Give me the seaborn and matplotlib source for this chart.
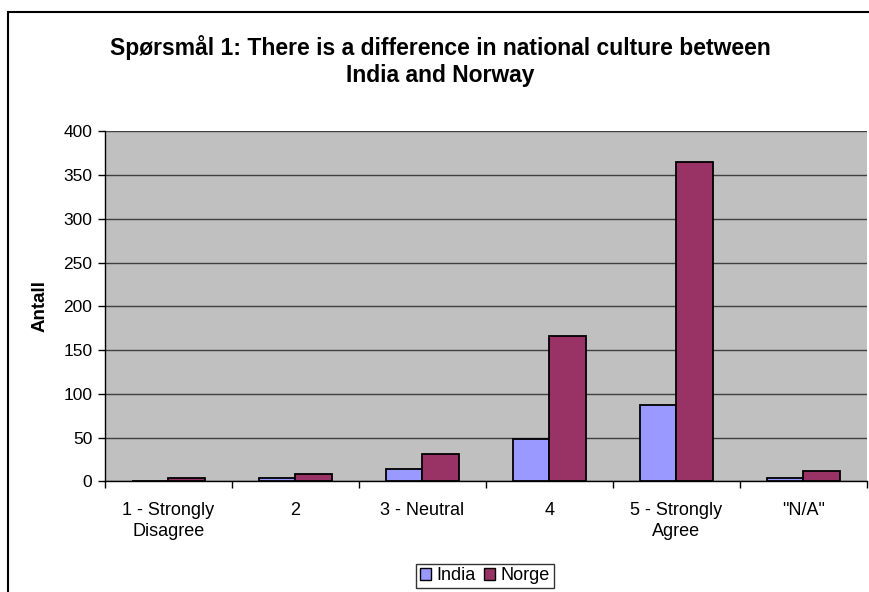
import matplotlib
matplotlib.use("Agg")
import matplotlib.pyplot as plt
import matplotlib.patches as mpatches
import seaborn as sns
import pandas as pd

categories = ["1 - Strongly\nDisagree", "2", "3 - Neutral", "4", "5 - Strongly\nAgree", "\"N/A\""]
india = [1, 4, 14, 48, 87, 4]
norge = [4, 8, 31, 166, 365, 12]
series_names = ["India", "Norge"]
colors = {"India": "#9999FF", "Norge": "#993366"}
yticks = [0, 50, 100, 150, 200, 250, 300, 350, 400]

df = pd.DataFrame({
    "Kategori": categories * 2,
    "Antall": india + norge,
    "Land": [series_names[0]] * len(categories) + [series_names[1]] * len(categories),
})

sns.set_style("white")
plt.rcParams["font.family"] = ["Liberation Sans", "DejaVu Sans"]
plt.rcParams["text.color"] = "black"
plt.rcParams["xtick.color"] = "black"
plt.rcParams["ytick.color"] = "black"
plt.rcParams["axes.labelcolor"] = "black"

fig = plt.figure(figsize=(8.69, 5.92), dpi=100)
ax = fig.add_axes([0.1208, 0.1867, 0.8769, 0.5912])
ax.set_facecolor("#C0C0C0")

sns.barplot(data=df, x="Kategori", y="Antall", hue="Land", palette=colors,
            order=categories, hue_order=series_names, width=0.575, saturation=1,
            edgecolor="black", linewidth=1.3, ax=ax, legend=False, zorder=3)

ax.set_xlim(-0.5, len(categories) - 0.5)
ax.set_ylim(0, 400)
ax.set_yticks(yticks)
ax.tick_params(axis="y", labelsize=12.5, length=5, width=1, direction="out",
               left=True, pad=4, color="black")
ax.set_xticks(range(len(categories)))
ax.set_xticklabels(categories, fontsize=13, linespacing=1.3)
ax.tick_params(axis="x", which="major", length=0, pad=15)
ax.set_xticks([i - 0.5 for i in range(len(categories) + 1)], minor=True)
ax.tick_params(axis="x", which="minor", length=5, width=1, direction="out",
               bottom=True, color="black")

ax.grid(axis="y", color="#404040", linewidth=1.0, zorder=1)
ax.set_axisbelow(True)
for side in ["top", "right"]:
    ax.spines[side].set_visible(False)
ax.spines["left"].set_color("black")
ax.spines["bottom"].set_color("black")
ax.spines["left"].set_linewidth(1.0)
ax.spines["bottom"].set_linewidth(1.0)

ax.set_xlabel("")
ax.set_ylabel("Antall", fontsize=13.5, fontweight="bold", labelpad=11)

fig.text(0.507, 0.897, "Spørsmål 1: There is a difference in national culture between\nIndia and Norway",
         ha="center", va="center", fontsize=16.5, fontweight="bold", linespacing=1.2)

handles = [mpatches.Patch(facecolor=colors[n], edgecolor="black", linewidth=1.0, label=n)
           for n in series_names]
leg = fig.legend(handles=handles, loc="center", bbox_to_anchor=(0.558, 0.0275),
                 ncol=2, frameon=True, fontsize=13, handlelength=0.6, handleheight=0.6,
                 handletextpad=0.3, columnspacing=0.5, borderpad=0.2, fancybox=False)
leg.get_frame().set_edgecolor("black")
leg.get_frame().set_linewidth(1.0)

border = mpatches.Rectangle((0.0095, -0.05), 1.1, 1.05 - 12 / 592,
                            transform=fig.transFigure, fill=False,
                            edgecolor="black", linewidth=1.5)
fig.patches.append(border)

fig.savefig("out.png", dpi=100)
